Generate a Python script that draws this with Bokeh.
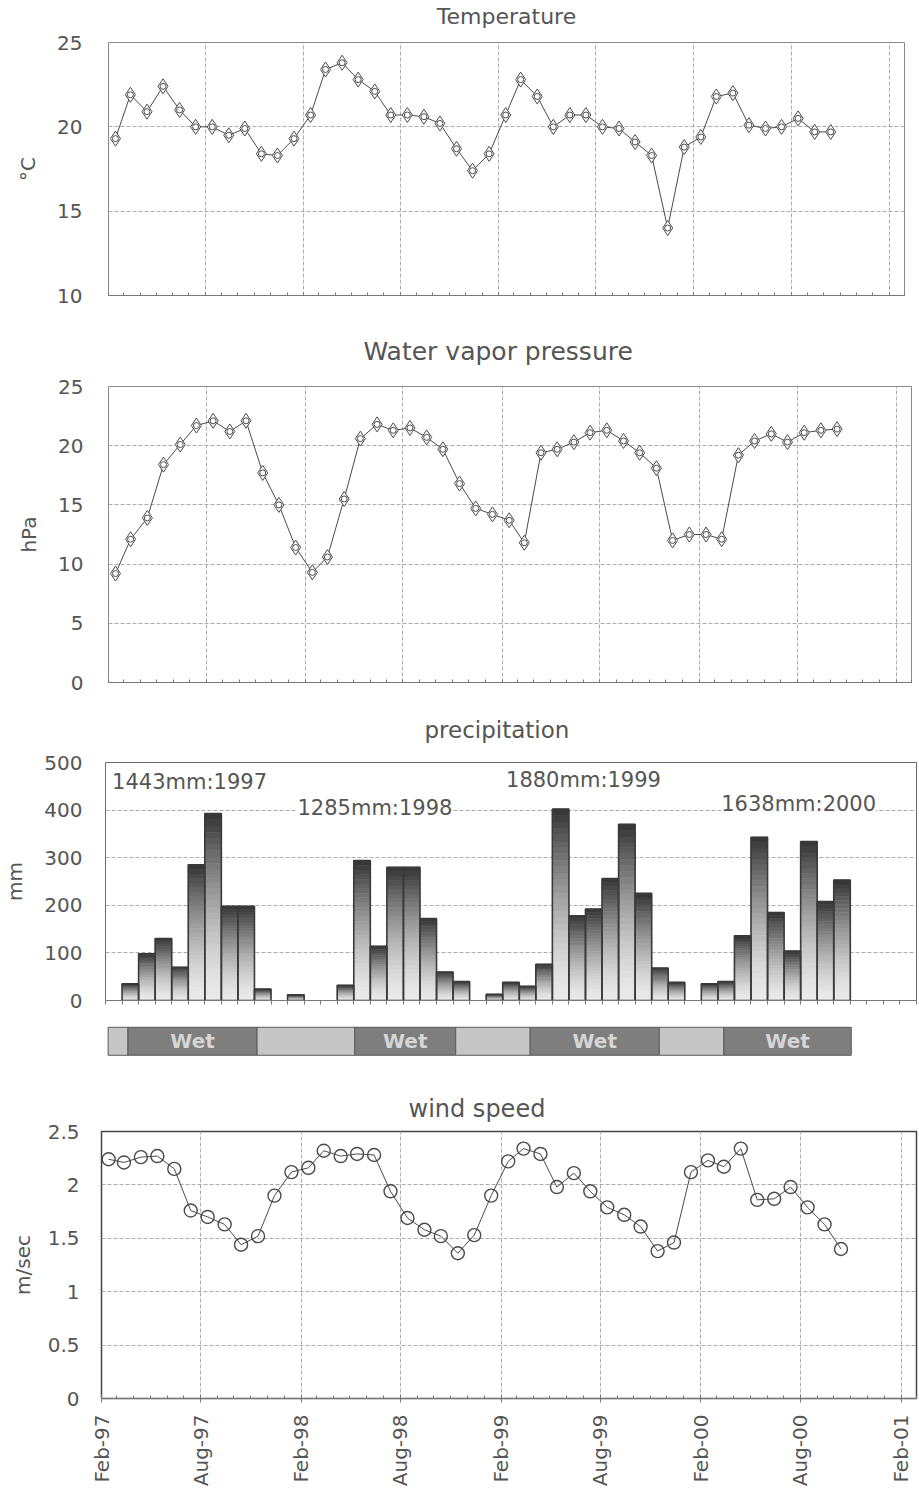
import math
import pandas as pd
from bokeh.plotting import figure
from bokeh.models import Range1d, FixedTicker, DatetimeTickFormatter, Label, LinearAxis
from bokeh.layouts import column
from bokeh.embed import file_html
from bokeh.resources import INLINE
from bokeh.core.properties import value

# ---------------- data ----------------
months = ["Feb-97", "Mar-97", "Apr-97", "May-97", "Jun-97", "Jul-97", "Aug-97", "Sep-97", "Oct-97", "Nov-97", "Dec-97",
          "Jan-98", "Feb-98", "Mar-98", "Apr-98", "May-98", "Jun-98", "Jul-98", "Aug-98", "Sep-98", "Oct-98", "Nov-98", "Dec-98",
          "Jan-99", "Feb-99", "Mar-99", "Apr-99", "May-99", "Jun-99", "Jul-99", "Aug-99", "Sep-99", "Oct-99", "Nov-99", "Dec-99",
          "Jan-00", "Feb-00", "Mar-00", "Apr-00", "May-00", "Jun-00", "Jul-00", "Aug-00", "Sep-00", "Oct-00"]

temperature = [19.3, 21.9, 20.9, 22.4, 21.0, 20.0, 20.0, 19.5, 19.9, 18.4,
               18.3, 19.3, 20.7, 23.4, 23.8, 22.8, 22.1, 20.7, 20.7, 20.6,
               20.2, 18.7, 17.4, 18.4, 20.7, 22.8, 21.8, 20.0, 20.7, 20.7,
               20.0, 19.9, 19.1, 18.3, 14.0, 18.8, 19.4, 21.8, 22.0, 20.1,
               19.9, 20.0, 20.5, 19.7, 19.7]

vapor = [9.2, 12.1, 13.9, 18.4, 20.1, 21.7, 22.1, 21.2, 22.1, 17.7,
         15.0, 11.4, 9.3, 10.6, 15.5, 20.6, 21.8, 21.3, 21.5, 20.7,
         19.7, 16.8, 14.7, 14.2, 13.7, 11.8, 19.4, 19.7, 20.3, 21.1,
         21.3, 20.4, 19.4, 18.1, 12.0, 12.5, 12.5, 12.1, 19.2, 20.4,
         21.0, 20.3, 21.1, 21.3, 21.4]

wind = [2.24, 2.21, 2.26, 2.27, 2.15, 1.76, 1.70, 1.63, 1.44, 1.52,
        1.90, 2.12, 2.16, 2.32, 2.27, 2.29, 2.28, 1.94, 1.69, 1.58,
        1.52, 1.36, 1.53, 1.90, 2.22, 2.34, 2.29, 1.98, 2.11, 1.94,
        1.79, 1.72, 1.61, 1.38, 1.46, 2.12, 2.23, 2.17, 2.34, 1.86,
        1.87, 1.98, 1.79, 1.63, 1.40]

# monthly precipitation (mm), Jan..Dec
precip_1997 = [0, 35, 98, 130, 70, 285, 393, 198, 198, 24, 0, 12]
precip_1998 = [0, 0, 32, 294, 114, 280, 280, 172, 60, 40, 0, 13]
precip_1999 = [38, 30, 76, 402, 178, 192, 256, 370, 225, 68, 38, 0]
precip_2000 = [35, 40, 136, 343, 185, 104, 334, 208, 253, 0, 0, 0]
annual_labels = ["1443mm:1997", "1285mm:1998", "1880mm:1999", "1638mm:2000"]

# season strip (in month slots from Jan-97)
season_edges = [0.4, 1.6, 9.4, 15.3, 21.4, 25.9, 33.7, 37.6, 45.3]
season_names = ["", "Wet", "", "Wet", "", "Wet", "", "Wet"]

tick_labels = ["Feb-97", "Aug-97", "Feb-98", "Aug-98", "Feb-99", "Aug-99", "Feb-00", "Aug-00", "Feb-01"]

# ---------------- helpers ----------------
FONT = "DejaVu Sans"
TXT = "#555555"
GRID = "#ababab"

dates = pd.to_datetime(months, format="%b-%y") + pd.Timedelta(days=13)
tick_dates = pd.to_datetime(tick_labels, format="%b-%y")
ms = lambda ts: ts.value // 10**6
major_ticks = [ms(t) for t in tick_dates]
minor_ticks = [ms(t) for t in pd.date_range(tick_dates[0], "2001-03-01", freq="MS")]
x_start, x_end = tick_dates[0], pd.Timestamp("2001-03-01")

fmt = DatetimeTickFormatter(years="%b-%y", months="%b-%y", days="%b-%y", hours="%b-%y",
                            minutes="%b-%y", seconds="%b-%y", milliseconds="%b-%y",
                            microseconds="%b-%y", hourmin="%b-%y", minsec="%b-%y")


def base_fig(title, fw, fh, left, right, top, bottom, y0, y1, yticks, ylabel, standoff_title,
             title_size="20px", title_offset=0, xdt=True):
    kw = dict(x_axis_type="datetime") if xdt else {}
    if title is not None:
        kw["title"] = title
    p = figure(frame_width=fw, frame_height=fh, min_border_left=left, min_border_right=right,
               min_border_top=top, min_border_bottom=bottom, output_backend="svg",
               toolbar_location=None, y_range=Range1d(y0, y1), **kw)
    p.frame_align = False
    if title is not None:
        p.title.text_font = FONT
        p.title.text_font_size = title_size
        p.title.text_font_style = "normal"
        p.title.text_color = TXT
        p.title.align = "left"
        p.title.offset = title_offset
        p.title.standoff = standoff_title
    p.background_fill_color = "white"
    p.border_fill_color = "white"
    p.outline_line_color = "#8a8a8a"
    p.outline_line_width = 1
    for ax in p.axis:
        ax.major_label_text_font = FONT
        ax.major_label_text_font_size = "20px"
        ax.major_label_text_color = TXT
        ax.axis_label_text_font = FONT
        ax.axis_label_text_font_size = "20px"
        ax.axis_label_text_font_style = "normal"
        ax.axis_label_text_color = TXT
    p.yaxis.ticker = FixedTicker(ticks=yticks)
    p.yaxis.major_tick_line_color = None
    p.yaxis.minor_tick_line_color = None
    p.yaxis.major_tick_out = 0
    p.yaxis.major_tick_in = 0
    p.yaxis.minor_tick_out = 0
    p.yaxis.minor_tick_in = 0
    p.yaxis.axis_line_color = None
    p.yaxis.axis_label = ylabel
    p.yaxis.axis_label_standoff = 14
    p.ygrid.grid_line_color = GRID
    p.ygrid.grid_line_dash = "4 2"
    p.xgrid.grid_line_color = GRID
    p.xgrid.grid_line_dash = "4 2"
    p.xaxis.axis_line_color = "#777777"
    return p


def datetime_x(p, show_labels):
    p.x_range = Range1d(x_start, x_end)
    p.xgrid.ticker = FixedTicker(ticks=major_ticks)
    if show_labels:
        p.xaxis.ticker = FixedTicker(ticks=major_ticks, minor_ticks=minor_ticks)
        p.xaxis.formatter = fmt
    else:
        p.xaxis.ticker = FixedTicker(ticks=[], minor_ticks=minor_ticks)
    p.xaxis.major_tick_in = 4
    p.xaxis.major_tick_out = 4
    p.xaxis.minor_tick_in = 3
    p.xaxis.minor_tick_out = 0
    p.xaxis.major_tick_line_color = "#777777"
    p.xaxis.minor_tick_line_color = "#777777"


LINE = "#4a4a4a"

# ---------------- temperature ----------------
p1 = base_fig(None, 796, 253, 108, 10, 41, 18, 10, 25, [10, 15, 20, 25], "°C", 10)
datetime_x(p1, False)
p1.yaxis.major_label_standoff = 26
title_axis = LinearAxis(ticker=FixedTicker(ticks=[]), axis_label="Temperature",
                        axis_line_color=None, major_tick_line_color=None, minor_tick_line_color=None,
                        major_tick_out=0, major_tick_in=0, minor_tick_out=0, minor_tick_in=0,
                        axis_label_standoff=14, axis_label_text_font=FONT,
                        axis_label_text_font_size="22px", axis_label_text_color=TXT,
                        axis_label_text_font_style="normal")
p1.add_layout(title_axis, "above")
p1.line(dates, temperature, line_color=LINE, line_width=1)
p1.scatter(dates, temperature, marker="diamond", size=15, fill_color="white", line_color=LINE, line_width=1)
p1.scatter(dates, temperature, marker="circle", size=6, fill_color="white", line_color=LINE, line_width=1)

# ---------------- water vapor ----------------
p2 = base_fig("Water vapor pressure", 803, 296, 108, 5, 72, 12, 0, 25, [0, 5, 10, 15, 20, 25], "hPa", 42,
              title_size="25px", title_offset=255)
datetime_x(p2, False)
p2.yaxis.major_label_standoff = 25
p2.line(dates, vapor, line_color=LINE, line_width=1)
p2.scatter(dates, vapor, marker="diamond", size=15, fill_color="white", line_color=LINE, line_width=1)
p2.scatter(dates, vapor, marker="circle", size=6, fill_color="white", line_color=LINE, line_width=1)

# ---------------- precipitation ----------------
precip = precip_1997 + precip_1998 + precip_1999 + precip_2000
p3 = base_fig("precipitation", 811, 238, 101, 5, 68, 17, 0, 500, [0, 100, 200, 300, 400, 500], "mm", 40,
              title_size="23px", title_offset=319, xdt=False)
p3.x_range = Range1d(0, 49)
p3.xaxis.ticker = FixedTicker(ticks=[], minor_ticks=list(range(0, 50)))
p3.xaxis.minor_tick_in = 0
p3.xaxis.minor_tick_out = 4
p3.xaxis.minor_tick_line_color = "#777777"
p3.xgrid.grid_line_color = None
p3.yaxis.major_label_standoff = 23
p3.outline_line_color = "#6a6a6a"

N = 30
sx, sb, st, sc = [], [], [], []
bx, bv = [], []
for i, v in enumerate(precip):
    if v <= 0:
        continue
    bx.append(i + 0.5)
    bv.append(v)
    for k in range(N):
        t = (k + 1) / N
        g = int(236 - 180 * t ** 1.5)
        sx.append(i + 0.5)
        sb.append(v * k / N)
        st.append(v * (k + 1) / N)
        sc.append(f"#{g:02x}{g:02x}{g:02x}")
p3.vbar(x=sx, bottom=sb, top=st, width=1.0, fill_color=sc, line_color=sc, line_width=0.6)
p3.vbar(x=bx, top=bv, width=1.0, fill_alpha=0, line_color="#3a3a3a", line_width=1.6)

label_pos = [(0.4, 458), (11.6, 405), (24.2, 464), (37.2, 412)]
for (lx, ly), txt in zip(label_pos, annual_labels):
    p3.add_layout(Label(x=lx, y=ly, text=txt, text_font=FONT, text_font_size="21px", text_color=TXT,
                        text_baseline="middle", text_align="left",
                        background_fill_color="white", background_fill_alpha=1.0))

# ---------------- season strip ----------------
pb = figure(frame_width=811, frame_height=47, min_border_left=101, min_border_right=5,
            min_border_top=0, min_border_bottom=0, output_backend="svg", toolbar_location=None,
            x_range=p3.x_range, y_range=Range1d(-0.33, 1.35))
pb.frame_align = False
pb.axis.visible = False
pb.grid.grid_line_color = None
pb.outline_line_color = None
pb.background_fill_color = "white"
pb.border_fill_color = "white"
lefts = season_edges[:-1]
rights = season_edges[1:]
cols = ["#7e7e7e" if n else "#c6c6c6" for n in season_names]
pb.quad(left=lefts, right=rights, bottom=0, top=1, fill_color=cols, line_color="#5a5a5a", line_width=1)
wx = [(a + b) / 2 for a, b, n in zip(lefts, rights, season_names) if n]
wt = [n for n in season_names if n]
pb.text(x=wx, y=[0.5] * len(wx), text=wt, text_font=value(FONT), text_font_size="20px",
        text_font_style="bold", text_color="#d6d6d6", text_align="center", text_baseline="middle")

# ---------------- wind speed ----------------
p4 = base_fig("wind speed", 815, 267, 101, 2, 67, 91, 0, 2.5, [0, 0.5, 1, 1.5, 2, 2.5], "m/sec", 18,
              title_size="24px", title_offset=307)
datetime_x(p4, True)
p4.xaxis.major_label_orientation = math.pi / 2
p4.xaxis.major_label_standoff = 12
p4.yaxis.major_label_standoff = 22
p4.yaxis.axis_label_standoff = 10
p4.outline_line_color = "#444444"
p4.outline_line_width = 1.5
p4.line(dates, wind, line_color=LINE, line_width=1)
p4.scatter(dates, wind, marker="circle", size=13, fill_alpha=0, line_color=LINE, line_width=1.4)

layout = column(p1, p2, p3, pb, p4, spacing=0)
open("out.html", "w").write(file_html(layout, INLINE))
